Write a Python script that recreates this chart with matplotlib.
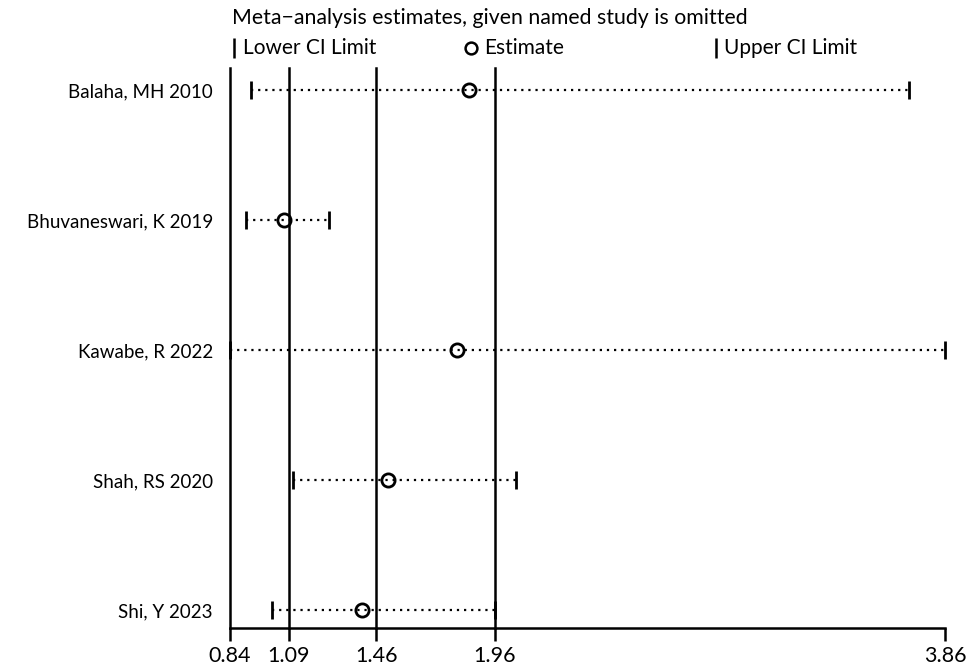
"""Leave-one-out sensitivity plot: pooled estimate with each study omitted."""
import matplotlib.pyplot as plt
from matplotlib.lines import Line2D

plt.rcParams["font.family"] = ["Lato", "DejaVu Sans"]

STUDIES = ["Balaha, MH 2010", "Bhuvaneswari, K 2019", "Kawabe, R 2022",
           "Shah, RS 2020", "Shi, Y 2023"]
LOWER = [0.93, 0.91, 0.84, 1.11, 1.02]
ESTIMATE = [1.85, 1.07, 1.80, 1.51, 1.40]
UPPER = [3.71, 1.26, 3.86, 2.05, 1.96]

# axis floor, pooled lower CI, pooled estimate, pooled upper CI
REF_LINES = [0.84, 1.09, 1.46, 1.96]
XTICKS = [0.84, 1.09, 1.46, 1.96, 3.86]
XTICKLABELS = ["0.84", "1.09", "1.46", "1.96", "3.86"]

W, H = 966, 670
fig = plt.figure(figsize=(W / 100, H / 100), dpi=100)
ax = fig.add_axes([229.5 / W, 1 - 628 / H, (945 - 229.5) / W, 560 / H])

ypos = list(range(len(STUDIES)))
for y, lo, est, hi in zip(ypos, LOWER, ESTIMATE, UPPER):
    ax.plot([lo, hi], [y, y], color="black", lw=1.6, ls=(0, (1, 2.2)),
            clip_on=False, zorder=2)
ax.plot(LOWER, ypos, ls="none", marker="|", ms=13, mew=2, color="black",
        clip_on=False, zorder=3)
ax.plot(UPPER, ypos, ls="none", marker="|", ms=13, mew=2, color="black",
        clip_on=False, zorder=3)
ax.plot(ESTIMATE, ypos, ls="none", marker="o", ms=9.5, mew=2, mfc="none",
        mec="black", clip_on=False, zorder=4)

for xv in REF_LINES:
    ax.axvline(xv, color="black", lw=1.8, zorder=1, clip_on=False)

ax.set_xlim(0.84, 3.86)
ax.set_ylim(4 + 18 / 130, -22 / 130)
ax.set_yticks(ypos)
ax.set_yticklabels(STUDIES, fontsize=13.5)
ax.tick_params(axis="y", length=0, pad=12)
ax.set_xticks(XTICKS)
ax.set_xticklabels(XTICKLABELS, fontsize=15.5)
ax.tick_params(axis="x", direction="out", length=9, width=1.8, pad=4)
for side in ("left", "right", "top"):
    ax.spines[side].set_visible(False)
ax.spines["bottom"].set_linewidth(1.8)

fig.text(232 / W, 1 - 18 / H, "Meta\u2212analysis estimates, given named study is omitted",
         fontsize=15.3, va="center", ha="left")

# legend row: marker then label, at fixed column positions
legend_y = 1 - 48 / H
legend_items = [
    ("|", 14, "Lower CI Limit", 234, 243),
    ("o", 8.5, "Estimate", 471, 484),
    ("|", 14, "Upper CI Limit", 716, 724),
]
for marker, size, label, mx, tx in legend_items:
    fig.add_artist(Line2D([mx / W], [legend_y], transform=fig.transFigure,
                          ls="none", marker=marker, ms=size, mew=1.8,
                          color="black", mfc="none", mec="black"))
    fig.text(tx / W, legend_y, label, fontsize=15, va="center", ha="left")

fig.savefig("out.png", dpi=100)
